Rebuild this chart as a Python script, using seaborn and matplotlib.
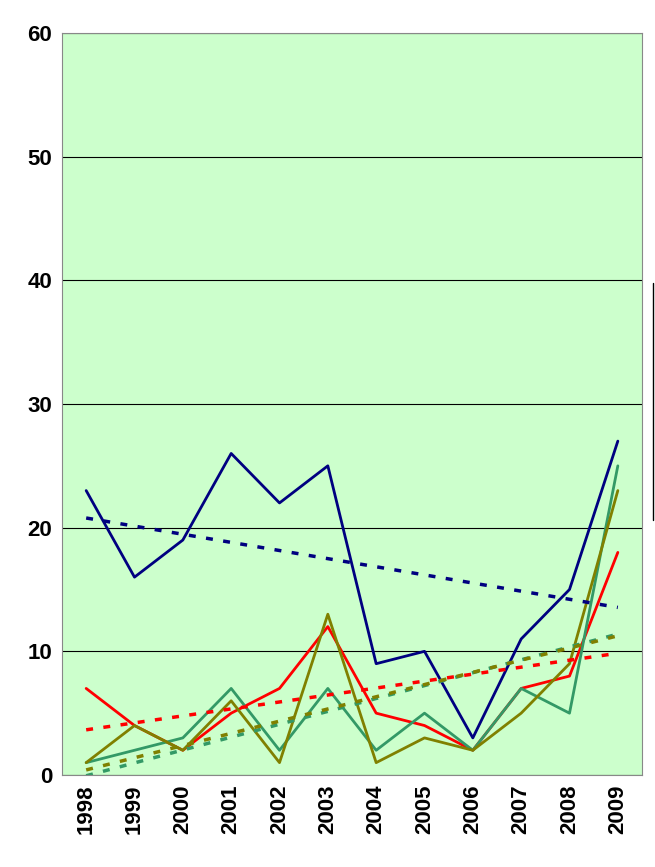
import matplotlib
matplotlib.use("Agg")
import matplotlib.pyplot as plt
import seaborn as sns
import numpy as np
import pandas as pd

years = ["1998","1999","2000","2001","2002","2003","2004","2005","2006","2007","2008","2009"]
blue = [23,16,19,26,22,25,9,10,3,11,15,27]
red = [7,4,2,5,7,12,5,4,2,7,8,18]
teal = [1,2,3,7,2,7,2,5,2,7,5,25]
olive = [1,4,2,6,1,13,1,3,2,5,9,23]
series = {"blue": blue, "red": red, "teal": teal, "olive": olive}
colors = {"blue": "#000080", "red": "#FF0000", "teal": "#339966", "olive": "#808000"}

sns.set_style("white")
plt.rcParams['font.family'] = ['Liberation Sans', 'DejaVu Sans']
fig = plt.figure(figsize=(6.55, 8.67), dpi=100)
ax = fig.add_axes([62/655, 1-775/867, 580/655, 742/867])
ax.set_facecolor("#CCFFCC")
x = np.arange(len(years))
rows = []
for name, vals in series.items():
    for xi, v in zip(x, vals):
        rows.append({"x": xi, "v": v, "s": name})
df = pd.DataFrame(rows)
sns.lineplot(data=df, x="x", y="v", hue="s", palette=colors, linewidth=2, ax=ax, legend=False)
for name, vals in series.items():
    k, b = np.polyfit(x, vals, 1)
    ax.plot(x, k*x+b, color=colors[name], linestyle=(0, (2, 3)), linewidth=2.5)
ax.set_xlim(-0.5, 11.5)
ax.set_ylim(0, 60)
ax.set_yticks(range(0, 61, 10))
ax.set_yticklabels([str(t) for t in range(0, 61, 10)], fontsize=16, fontweight="bold", color="black")
ax.set_xticks(x)
ax.set_xticklabels(years, rotation=90, fontsize=16, fontweight="bold", color="black")
ax.yaxis.grid(True, color="black", linewidth=0.8)
ax.set_axisbelow(True)
for s in ax.spines.values():
    s.set_color("#888888")
ax.set_xlabel("")
ax.set_ylabel("")
fig.add_artist(plt.Line2D([653/655, 653/655], [1-283/867, 1-520/867], color="black", linewidth=1))
fig.savefig("out.png", dpi=100)
